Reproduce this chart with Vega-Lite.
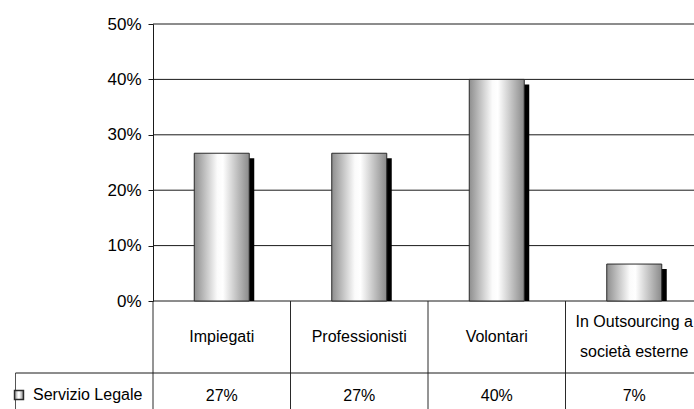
{
  "$schema": "https://vega.github.io/schema/vega-lite/v6.json",
  "width": 541,
  "height": 385,
  "autosize": {"type": "none"},
  "padding": {"left": 153, "top": 24, "right": 0, "bottom": 0},
  "background": "white",
  "config": {
    "view": {"stroke": null},
    "font": "Liberation Sans",
    "text": {"font": "Liberation Sans", "fontSize": 16, "color": "black"}
  },
  "datasets": {
    "serie": [
      {"categoria": "Impiegati", "serie": "Servizio Legale", "valore": 0.2667},
      {"categoria": "Professionisti", "serie": "Servizio Legale", "valore": 0.2667},
      {"categoria": "Volontari", "serie": "Servizio Legale", "valore": 0.4},
      {"categoria": "In Outsourcing a società esterne", "serie": "Servizio Legale", "valore": 0.0667}
    ],
    "etichette": [
      {"categoria": "Impiegati", "riga": "label", "testo": ["Impiegati"]},
      {"categoria": "Professionisti", "riga": "label", "testo": ["Professionisti"]},
      {"categoria": "Volontari", "riga": "label", "testo": ["Volontari"]},
      {"categoria": "In Outsourcing a società esterne", "riga": "label", "testo": ["In Outsourcing a", "società esterne"]}
    ],
    "griglia": [
      {"tacca": 0}, {"tacca": 0.1}, {"tacca": 0.2}, {"tacca": 0.3}, {"tacca": 0.4}, {"tacca": 0.5}
    ]
  },
  "encoding": {
    "x": {
      "field": "categoria",
      "type": "nominal",
      "axis": null,
      "scale": {
        "type": "band",
        "domain": ["legenda", "Impiegati", "Professionisti", "Volontari", "In Outsourcing a società esterne"],
        "range": [-137.5, 550],
        "paddingInner": 0,
        "paddingOuter": 0
      }
    }
  },
  "layer": [
    {
      "data": {"name": "griglia"},
      "mark": {"type": "rule", "color": "#1a1a1a", "strokeWidth": 1},
      "encoding": {
        "x": {"datum": "Impiegati", "bandPosition": 0},
        "x2": {"datum": "In Outsourcing a società esterne", "bandPosition": 1},
        "y": {
          "field": "tacca",
          "type": "quantitative",
          "scale": {"domain": [0, 0.5], "range": [277, 0], "nice": false, "zero": true},
          "axis": {
            "values": [0, 0.1, 0.2, 0.3, 0.4, 0.5],
            "format": ".0%",
            "title": null,
            "grid": false,
            "domainColor": "#1a1a1a",
            "tickColor": "#1a1a1a",
            "tickSize": 5,
            "labelPadding": 7,
            "labelFont": "Liberation Sans",
            "labelFontSize": 17,
            "labelColor": "black"
          }
        }
      }
    },
    {
      "data": {"name": "serie"},
      "mark": {"type": "bar", "color": "black", "xOffset": 5, "yOffset": 5, "y2Offset": 0, "width": {"band": 0.4}},
      "encoding": {
        "y": {"field": "valore", "type": "quantitative", "scale": {"domain": [0, 0.5], "range": [277, 0], "nice": false}, "axis": null},
        "y2": {"datum": 0}
      }
    },
    {
      "data": {"name": "serie"},
      "mark": {
        "type": "bar",
        "width": {"band": 0.4},
        "strokeWidth": 1,
        "fill": {
          "x1": 0, "y1": 0, "x2": 1, "y2": 0,
          "gradient": "linear",
          "stops": [
            {"offset": 0, "color": "#8e8e8e"},
            {"offset": 0.42, "color": "#fbfbfb"},
            {"offset": 0.52, "color": "#ffffff"},
            {"offset": 1, "color": "#8a8a8a"}
          ]
        }
      },
      "encoding": {
        "y": {"field": "valore", "type": "quantitative", "scale": {"domain": [0, 0.5], "range": [277, 0], "nice": false}, "axis": null},
        "stroke": {
          "field": "serie",
          "type": "nominal",
          "scale": {"range": ["#2a2a2a"]},
          "legend": {
            "orient": "none",
            "legendX": -142,
            "legendY": 363,
            "title": null,
            "padding": 0,
            "symbolType": "square",
            "symbolSize": 80,
            "symbolStrokeWidth": 1.5,
            "symbolFillColor": "#f4f4f4",
            "symbolStrokeColor": "#111",
            "labelFont": "Liberation Sans",
            "labelFontSize": 16,
            "labelColor": "black",
            "labelOffset": 6
          }
        }
      }
    },
    {
      "data": {"name": "etichette"},
      "mark": {"type": "rule", "color": "#2a2a2a", "strokeWidth": 1},
      "encoding": {
        "x": {"field": "categoria", "type": "nominal", "bandPosition": 0},
        "y": {"datum": "label", "bandPosition": 0, "type": "nominal", "scale": {"type": "band", "domain": ["label", "value"], "range": [277, 421], "paddingInner": 0, "paddingOuter": 0}, "axis": null},
        "y2": {"datum": "value", "bandPosition": 1}
      }
    },
    {
      "data": {"values": [{"categoria": "legenda"}]},
      "mark": {"type": "rule", "color": "#555555", "strokeWidth": 1},
      "encoding": {
        "x": {"field": "categoria", "type": "nominal", "bandPosition": 0},
        "y": {"datum": "value", "bandPosition": 0, "type": "nominal", "scale": {"type": "band", "domain": ["label", "value"], "range": [277, 421], "paddingInner": 0, "paddingOuter": 0}, "axis": null},
        "y2": {"datum": "value", "bandPosition": 1}
      }
    },
    {
      "data": {"values": [{"categoria": "legenda", "fine": "In Outsourcing a società esterne"}]},
      "mark": {"type": "rule", "color": "#1a1a1a", "strokeWidth": 1},
      "encoding": {
        "x": {"field": "categoria", "type": "nominal", "bandPosition": 0},
        "x2": {"field": "fine", "bandPosition": 1},
        "y": {"datum": "value", "bandPosition": 0, "type": "nominal", "scale": {"type": "band", "domain": ["label", "value"], "range": [277, 421], "paddingInner": 0, "paddingOuter": 0}, "axis": null}
      }
    },
    {
      "data": {"name": "etichette"},
      "transform": [{"filter": "length(datum.testo) == 1"}],
      "mark": {"type": "text", "baseline": "middle", "align": "center", "fontSize": 16},
      "encoding": {
        "text": {"field": "testo"},
        "y": {"field": "riga", "type": "nominal", "bandPosition": 0.5, "scale": {"type": "band", "domain": ["label", "value"], "range": [277, 421], "paddingInner": 0, "paddingOuter": 0}, "axis": null}
      }
    },
    {
      "data": {"name": "etichette"},
      "transform": [{"filter": "length(datum.testo) > 1"}],
      "mark": {"type": "text", "baseline": "middle", "align": "center", "lineHeight": 30, "fontSize": 16},
      "encoding": {
        "text": {"field": "testo"},
        "y": {"field": "riga", "type": "nominal", "bandPosition": 0.29, "scale": {"type": "band", "domain": ["label", "value"], "range": [277, 421], "paddingInner": 0, "paddingOuter": 0}, "axis": null}
      }
    },
    {
      "data": {"name": "serie"},
      "mark": {"type": "text", "baseline": "middle", "align": "center", "fontSize": 16},
      "encoding": {
        "text": {"field": "valore", "type": "quantitative", "format": ".0%"},
        "y": {"datum": "value", "type": "nominal", "bandPosition": 0.32, "scale": {"type": "band", "domain": ["label", "value"], "range": [277, 421], "paddingInner": 0, "paddingOuter": 0}, "axis": null}
      }
    }
  ],
  "resolve": {"scale": {"y": "independent"}}
}
